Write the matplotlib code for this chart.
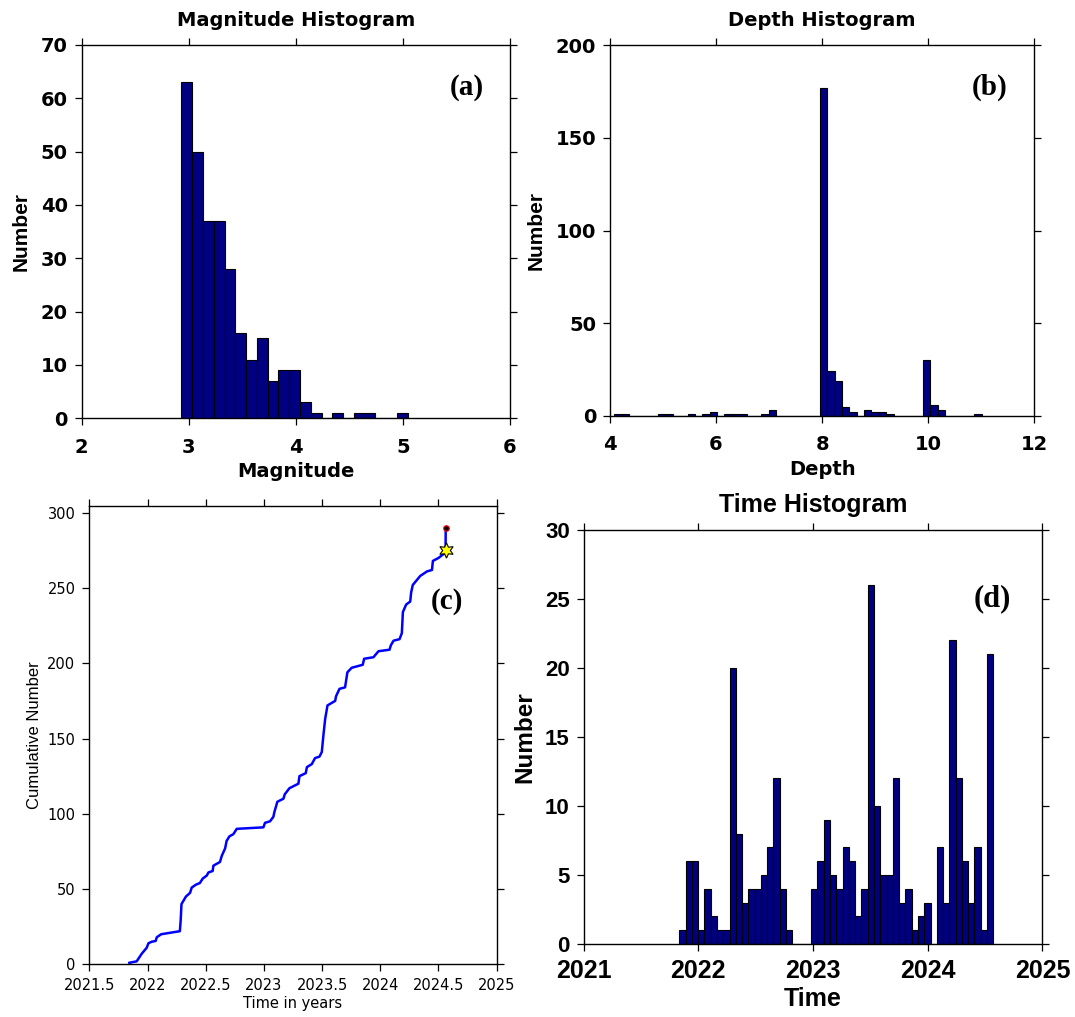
import numpy as np
import matplotlib.pyplot as plt

# magnitude histogram (a)
mag_counts = [63, 50, 37, 37, 28, 16, 11, 15, 7, 9, 9, 3, 1, 0, 1, 0, 1, 1, 0, 0, 1]
mag_range = (2.932, 5.046)

# depth histogram (b)
depth_counts = [1, 1, 0, 0, 0, 0, 1, 1, 0, 0,
                1, 0, 1, 2, 0, 1, 1, 1, 0, 0,
                1, 3, 0, 0, 0, 0, 0, 0, 177, 24,
                19, 5, 2, 0, 3, 2, 2, 1, 0, 0,
                0, 0, 30, 6, 3, 0, 0, 0, 0, 1]
depth_range = (4.08, 11.01)

# time histogram (d)
time_counts = [1, 6, 6, 1, 4, 2, 1, 1, 20, 8,
               3, 4, 4, 5, 7, 12, 4, 1, 0, 0,
               0, 4, 6, 9, 5, 4, 7, 6, 2, 4,
               26, 10, 5, 5, 12, 3, 4, 1, 2, 3,
               0, 7, 3, 22, 12, 6, 3, 7, 1, 21]
time_range = (2021.834, 2024.572)

# cumulative number curve (c)
cum_time = [2021.844, 2021.907, 2021.950, 2021.993, 2022.008, 2022.036, 2022.070, 2022.080,
            2022.118, 2022.278, 2022.285, 2022.292, 2022.330, 2022.366, 2022.380, 2022.418,
            2022.450, 2022.475, 2022.510, 2022.523, 2022.560, 2022.566, 2022.623, 2022.638,
            2022.667, 2022.680, 2022.704, 2022.738, 2022.767, 2022.996, 2023.010, 2023.053,
            2023.082, 2023.090, 2023.116, 2023.168, 2023.180, 2023.220, 2023.297, 2023.306,
            2023.360, 2023.370, 2023.412, 2023.440, 2023.478, 2023.498, 2023.513, 2023.527,
            2023.547, 2023.613, 2023.620, 2023.650, 2023.698, 2023.718, 2023.755, 2023.850,
            2023.862, 2023.942, 2023.985, 2024.080, 2024.092, 2024.115, 2024.166, 2024.186,
            2024.195, 2024.223, 2024.258, 2024.266, 2024.280, 2024.344, 2024.402, 2024.445,
            2024.453, 2024.502, 2024.560, 2024.562, 2024.563]
cum_count = [1, 2, 7, 11, 14, 15, 15.5, 18,
             20, 22, 29, 40, 45, 47.5, 51, 53,
             54, 57, 59, 61, 62, 65.5, 68, 72,
             77, 82, 85, 86.5, 90, 91, 94, 95,
             98, 101, 108, 110, 113, 117, 120, 125,
             127, 131, 133, 137, 138, 141, 153, 163,
             172, 175, 178, 183, 184, 194, 197, 199,
             203, 204, 208, 209, 212, 215, 216, 220,
             234, 239, 241, 247, 252, 258, 261, 262,
             268, 270, 273.5, 275, 290]
star_time, star_count = 2024.562, 275
last_time, last_count = 2024.563, 290

BAR_FACE = '#000080'
WIDE_BOLD = dict(family='DejaVu Sans', weight='bold', size=14)
ROT_BOLD = dict(family='Liberation Sans', weight='bold', size=15)
PANEL = dict(family='Liberation Serif', weight='bold', size=21)


def style_axes(ax, font, xpad=5):
    ax.tick_params(direction='out', top=True, right=True, length=5, width=0.9, pad=5)
    ax.tick_params(axis='x', pad=xpad)
    for spine in ax.spines.values():
        spine.set_linewidth(1.0)
    for lab in ax.get_xticklabels() + ax.get_yticklabels():
        lab.set_fontfamily(font['family'])
        lab.set_fontweight(font['weight'])
        lab.set_fontsize(font['size'])


def hist_bars(ax, counts, lo, hi):
    edges = np.linspace(lo, hi, len(counts) + 1)
    ax.bar(edges[:-1], counts, width=np.diff(edges), align='edge',
           color=BAR_FACE, edgecolor='black', linewidth=0.8)


fig = plt.figure(figsize=(10.75, 10.17), dpi=100)

# (a) magnitude
ax1 = fig.add_axes([0.0759, 0.5887, 0.3985, 0.3671])
hist_bars(ax1, mag_counts, *mag_range)
ax1.set_xlim(2, 6)
ax1.set_ylim(0, 70)
ax1.set_xticks([2, 3, 4, 5, 6])
ax1.set_yticks(range(0, 71, 10))
style_axes(ax1, WIDE_BOLD, xpad=9)
ax1.set_title('Magnitude Histogram', fontdict=WIDE_BOLD, pad=14)
ax1.set_xlabel('Magnitude', fontdict=WIDE_BOLD, labelpad=4)
ax1.set_ylabel('Number', fontdict=ROT_BOLD, labelpad=7)
ax1.text(5.6, 62, '(a)', fontdict=PANEL, ha='center', va='center')

# (b) depth
ax2 = fig.add_axes([0.5674, 0.5910, 0.3947, 0.3646])
hist_bars(ax2, depth_counts, *depth_range)
ax2.set_xlim(4, 12)
ax2.set_ylim(0, 200)
ax2.set_xticks([4, 6, 8, 10, 12])
ax2.set_yticks([0, 50, 100, 150, 200])
style_axes(ax2, WIDE_BOLD, xpad=9)
ax2.set_title('Depth Histogram', fontdict=WIDE_BOLD, pad=14)
ax2.set_xlabel('Depth', fontdict=WIDE_BOLD, labelpad=4)
ax2.set_ylabel('Number', fontdict=ROT_BOLD, labelpad=7)
ax2.text(11.16, 177, '(b)', fontdict=PANEL, ha='center', va='center')

# (c) cumulative number
ax3 = fig.add_axes([0.0831, 0.0518, 0.3788, 0.4507])
ax3.plot(cum_time, cum_count, color='#0000FF', lw=1.8)
ax3.plot([star_time], [star_count], marker=(6, 1, 0), ms=11, mfc='yellow',
         mec='black', mew=0.8, ls='none')
ax3.plot([last_time], [last_count], marker='o', ms=4, mfc='black', mec='red',
         mew=0.8, ls='none')
ax3.set_xlim(2021.5, 2025)
ax3.set_ylim(0, 304.5)
ax3.set_xticks(np.arange(2021.5, 2025.01, 0.5))
ax3.set_xticklabels(['2021.5', '2022', '2022.5', '2023', '2023.5', '2024', '2024.5', '2025'])
ax3.set_yticks(range(0, 301, 50))
style_axes(ax3, dict(family='DejaVu Sans', weight='normal', size=10.5))
ax3.set_xlabel('Time in years', family='DejaVu Sans', fontsize=10.5, labelpad=2)
ax3.set_ylabel('Cumulative Number', family='Liberation Sans', fontsize=12, labelpad=4)
ax3.text(2024.57, 241, '(c)', fontdict=PANEL, ha='center', va='center')

# (d) time
ax4 = fig.add_axes([0.5429, 0.0718, 0.4268, 0.4071])
hist_bars(ax4, time_counts, *time_range)
ax4.set_xlim(2021, 2025)
ax4.set_ylim(0, 30)
ax4.set_xticks([2021, 2022, 2023, 2024, 2025])
ax4.set_yticks(range(0, 31, 5))
style_axes(ax4, dict(family='Liberation Sans', weight='bold', size=16), xpad=6)
for lab in ax4.get_xticklabels():
    lab.set_fontsize(18)
ax4.set_title('Time Histogram', family='Liberation Sans', weight='bold', fontsize=18, pad=13)
ax4.set_xlabel('Time', family='Liberation Sans', weight='bold', fontsize=18, labelpad=3)
ax4.set_ylabel('Number', family='Liberation Sans', weight='bold', fontsize=17.5, labelpad=6)
ax4.text(2024.56, 25.05, '(d)', family='Liberation Serif', weight='bold', fontsize=22,
         ha='center', va='center')

fig.savefig('out.png', dpi=100)
